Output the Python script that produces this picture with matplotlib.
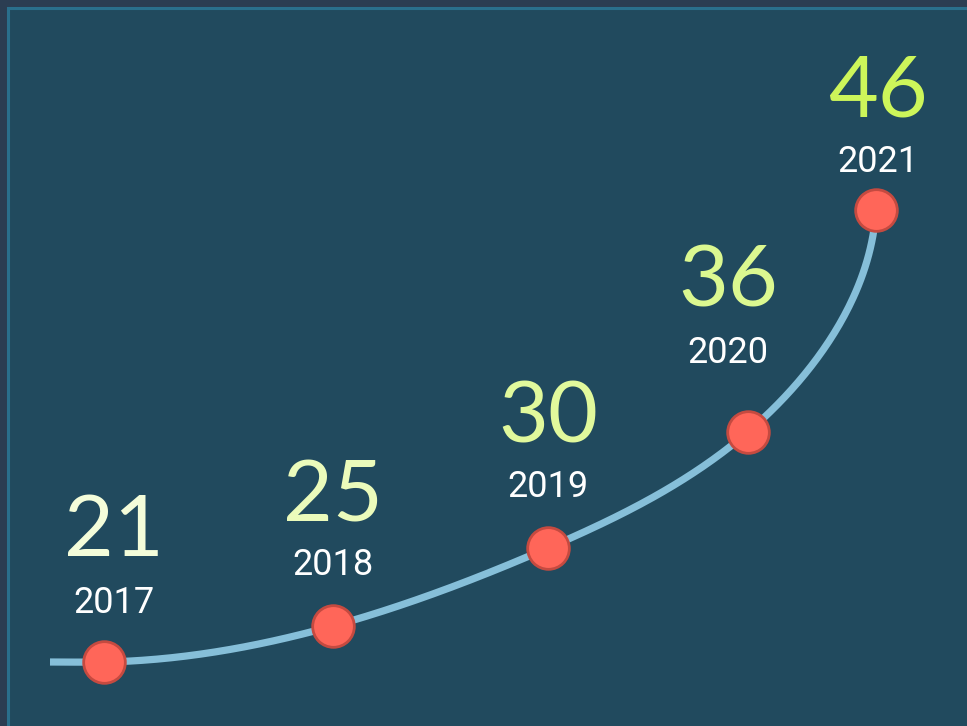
import numpy as np
import matplotlib
matplotlib.use("Agg")
import matplotlib.pyplot as plt
from matplotlib.patches import Rectangle

# ---- data ----
years = ["2017", "2018", "2019", "2020", "2021"]
values = [21, 25, 30, 36, 46]
value_colors = ["#f4fdda", "#ebfbbb", "#e1f99c", "#dbf890", "#cdf65a"]

# ---- layout of the decorative curve (pixel frame of the 967x726 canvas) ----
anchor_x = [104, 333, 548, 748, 876]
anchor_y = [662, 626, 548, 432, 210]
label_x = [114, 333, 548, 728, 878]
value_y = [525, 490, 411, 275, 85]
year_y = [599, 561, 483, 349, 158]

W, H = 967, 726
fig = plt.figure(figsize=(W / 100, H / 100), dpi=100)
fig.patch.set_facecolor("#2b3d52")
ax = fig.add_axes([0, 0, 1, 1])
ax.set_xlim(0, W)
ax.set_ylim(H, 0)
ax.axis("off")

# panel background + border
ax.add_patch(Rectangle((7.5, 7.5), W + 20, H + 20, facecolor="#214a5e",
                       edgecolor="#2a6f8c", linewidth=2.2, zorder=0))


def clamped_spline(pts, d0, d1, n=80):
    """C2 cubic spline with chord-length parameterisation and clamped ends."""
    P = np.asarray(pts, float)
    seg = np.linalg.norm(np.diff(P, axis=0), axis=1)
    m = len(P)
    A = np.zeros((m, m))
    B = np.zeros((m, 2))
    A[0, 0] = 1
    B[0] = np.asarray(d0, float) / np.linalg.norm(d0)
    A[-1, -1] = 1
    B[-1] = np.asarray(d1, float) / np.linalg.norm(d1)
    for i in range(1, m - 1):
        h0, h1 = seg[i - 1], seg[i]
        A[i, i - 1] = h1
        A[i, i] = 2 * (h0 + h1)
        A[i, i + 1] = h0
        B[i] = 3 * (h1 * (P[i] - P[i - 1]) / h0 + h0 * (P[i + 1] - P[i]) / h1)
    D = np.linalg.solve(A, B)
    out = []
    t = np.linspace(0, 1, n)[:, None]
    for i in range(m - 1):
        h = seg[i]
        h00 = 2 * t**3 - 3 * t**2 + 1
        h10 = t**3 - 2 * t**2 + t
        h01 = -2 * t**3 + 3 * t**2
        h11 = t**3 - t**2
        out.append(h00 * P[i] + h10 * h * D[i] + h01 * P[i + 1] + h11 * h * D[i + 1])
    return np.vstack(out)


curve = clamped_spline([(50, 662)] + list(zip(anchor_x, anchor_y)),
                       (1, 0), (0.06, -1))
ax.plot(curve[:, 0], curve[:, 1], color="#86bfd9", linewidth=5.2,
        solid_capstyle="butt", zorder=2)

ax.plot(anchor_x, anchor_y, linestyle="none", marker="o", markersize=30,
        markerfacecolor="#ff6659", markeredgecolor="#c54a40",
        markeredgewidth=2.0, zorder=3)

for i in range(len(values)):
    ax.text(label_x[i], value_y[i], str(values[i]), color=value_colors[i],
            fontsize=62, family="Lato", fontweight="normal", ha="center",
            va="center_baseline", zorder=4)
    ax.text(label_x[i], year_y[i], years[i], color="white", fontsize=26,
            family="Roboto", ha="center", va="center_baseline", zorder=4)

fig.savefig("out.png", dpi=100, facecolor=fig.get_facecolor())
